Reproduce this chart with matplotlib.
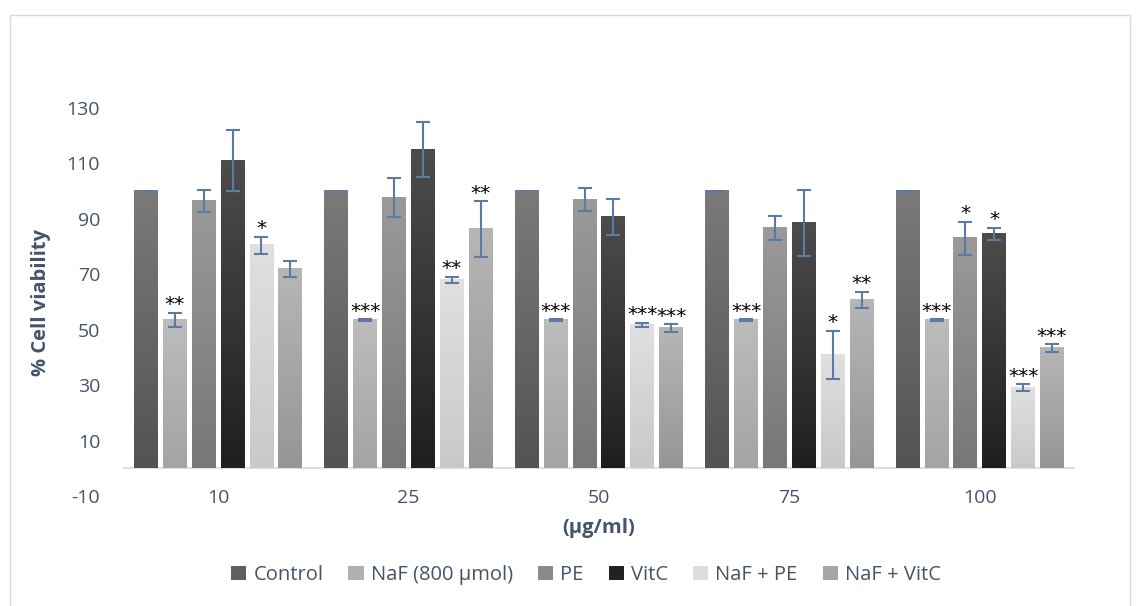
import numpy as np
import matplotlib.pyplot as plt
from matplotlib.colors import LinearSegmentedColormap
from matplotlib.patches import Patch, Rectangle

plt.rcParams['font.family'] = ['Open Sans', 'DejaVu Sans']
plt.rcParams['axes.unicode_minus'] = False

# Data
doses = ["10", "25", "50", "75", "100"]
series = ["Control", "NaF (800 \u00b5mol)", "PE", "VitC", "NaF + PE", "NaF + VitC"]

control = [100, 100, 100, 100, 100]
naf = [53.5, 53.5, 53.5, 53.5, 53.5]
pe = [96.5, 97.6, 97.0, 86.7, 83.0]
vitc = [111.0, 115.0, 90.7, 88.5, 84.5]
naf_pe = [80.5, 68.0, 51.7, 41.0, 29.1]
naf_vitc = [72.0, 86.3, 50.6, 60.8, 43.3]

control_err = [0.2, 0.2, 0.2, 0.2, 0.2]
naf_err = [2.5, 0.2, 0.2, 0.2, 0.2]
pe_err = [4.0, 7.0, 4.0, 4.5, 6.0]
vitc_err = [11.0, 10.0, 6.5, 12.0, 2.3]
naf_pe_err = [3.0, 1.0, 0.8, 8.7, 1.2]
naf_vitc_err = [2.8, 10.0, 1.3, 2.8, 1.4]

control_sig = ["", "", "", "", ""]
naf_sig = ["**", "***", "***", "***", "***"]
pe_sig = ["", "", "", "", "*"]
vitc_sig = ["", "", "", "", "*"]
naf_pe_sig = ["*", "**", "***", "*", "***"]
naf_vitc_sig = ["", "**", "***", "**", "***"]

values = [control, naf, pe, vitc, naf_pe, naf_vitc]
errors = [control_err, naf_err, pe_err, vitc_err, naf_pe_err, naf_vitc_err]
stars = [control_sig, naf_sig, pe_sig, vitc_sig, naf_pe_sig, naf_vitc_sig]

# gradient (top, bottom) per series
grad = [("#7a7a7a", "#535353"),
        ("#bcbcbc", "#a4a4a4"),
        ("#9a9a9a", "#777777"),
        ("#4c4c4c", "#1f1f1f"),
        ("#e0e0e0", "#c9c9c9"),
        ("#b6b6b6", "#969696")]
legend_cols = ["#5f5f5f", "#b0b0b0", "#8a8a8a", "#222222", "#dcdcdc", "#a6a6a6"]

text_col = "#44546a"
err_col = "#5b7ba3"

fig = plt.figure(figsize=(11.39, 6.06), dpi=100)
fig.patches.append(Rectangle((10 / 1139, -0.05), 1120 / 1139, 1 - 15 / 606 + 0.05,
                             transform=fig.transFigure, fill=False,
                             edgecolor="#d9d9d9", linewidth=1))
ax = fig.add_axes([123 / 1139, 1 - 496 / 606, (1075 - 123) / 1139, (496 - 108) / 606])

x = np.arange(len(doses))
width = 0.126
step = 0.1516
offsets = (np.arange(len(series)) - 2.5) * step

for i, (vals, errs, sig) in enumerate(zip(values, errors, stars)):
    xs = x + offsets[i]
    bars = ax.bar(xs, vals, width=width, color=legend_cols[i], zorder=1)
    cmap = LinearSegmentedColormap.from_list("g%d" % i, [grad[i][1], grad[i][0]])
    for b in bars:
        x0 = b.get_x()
        h = b.get_height()
        ax.imshow(np.linspace(0, 1, 100).reshape(-1, 1), extent=[x0, x0 + b.get_width(), 0, h],
                  origin="lower", aspect="auto", cmap=cmap, zorder=2)
    ax.errorbar(xs, vals, yerr=errs, fmt="none", ecolor=err_col, elinewidth=1.5,
                capsize=5, capthick=1.5, zorder=3)
    for xx, v, e, s in zip(xs, vals, errs, sig):
        if s:
            ax.annotate(s, (xx, v + e), xytext=(0, -1), textcoords="offset points",
                        ha="center", va="bottom", fontsize=14.5, color="black",
                        family="DejaVu Sans", zorder=4)

ax.set_xlim(-0.5, len(doses) - 0.5)
ax.set_ylim(-10, 130)
ax.set_yticks(np.arange(-10, 131, 20))
ax.set_xticks(x)
ax.set_xticklabels(doses)
ax.axhline(0, color="#d9d9d9", linewidth=1.2, zorder=0)
for sp in ax.spines.values():
    sp.set_visible(False)
ax.tick_params(length=0, labelsize=14, colors=text_col)
ax.tick_params(axis="y", pad=16.5)
ax.tick_params(axis="x", pad=-5)
ax.set_ylabel("% Cell viability", fontsize=14.5, fontweight="bold", color=text_col, labelpad=11)
ax.set_xlabel("(\u00b5g/ml)", fontsize=14.5, fontweight="bold", color=text_col, labelpad=8)

handles = [Patch(facecolor=c, edgecolor="none") for c in legend_cols]
fig.legend(handles, series, loc="center", bbox_to_anchor=(586 / 1139, 1 - 575 / 606),
           ncol=6, frameon=False, fontsize=14.5, labelcolor=text_col,
           handlelength=0.75, handleheight=0.75, handletextpad=0.35, columnspacing=1.25)

fig.savefig("out.png", dpi=100)
